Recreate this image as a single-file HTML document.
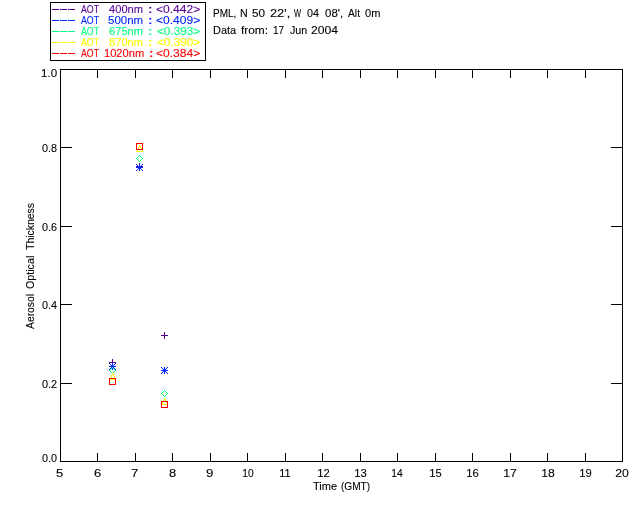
<!DOCTYPE html>
<html><head><meta charset="utf-8"><title>Aerosol Optical Thickness - PML</title>
<style>
html,body{margin:0;padding:0;background:#fff;}
svg{display:block;}
text{font-family:'Liberation Sans',sans-serif;stroke:currentColor;stroke-width:0.12px;}
.t{opacity:0.999;}
</style></head>
<body>
<svg width="640" height="512" viewBox="0 0 640 512" shape-rendering="crispEdges">
<rect x="0" y="0" width="640" height="512" fill="#fff"/>
<rect x="60" y="69" width="563" height="1" fill="#000"/>
<rect x="60" y="461" width="563" height="1" fill="#000"/>
<rect x="60" y="69" width="1" height="393" fill="#000"/>
<rect x="622" y="69" width="1" height="393" fill="#000"/>
<rect x="97" y="453" width="1" height="8" fill="#000"/>
<rect x="97" y="70" width="1" height="8" fill="#000"/>
<rect x="135" y="453" width="1" height="8" fill="#000"/>
<rect x="135" y="70" width="1" height="8" fill="#000"/>
<rect x="172" y="453" width="1" height="8" fill="#000"/>
<rect x="172" y="70" width="1" height="8" fill="#000"/>
<rect x="210" y="453" width="1" height="8" fill="#000"/>
<rect x="210" y="70" width="1" height="8" fill="#000"/>
<rect x="247" y="453" width="1" height="8" fill="#000"/>
<rect x="247" y="70" width="1" height="8" fill="#000"/>
<rect x="285" y="453" width="1" height="8" fill="#000"/>
<rect x="285" y="70" width="1" height="8" fill="#000"/>
<rect x="322" y="453" width="1" height="8" fill="#000"/>
<rect x="322" y="70" width="1" height="8" fill="#000"/>
<rect x="360" y="453" width="1" height="8" fill="#000"/>
<rect x="360" y="70" width="1" height="8" fill="#000"/>
<rect x="397" y="453" width="1" height="8" fill="#000"/>
<rect x="397" y="70" width="1" height="8" fill="#000"/>
<rect x="435" y="453" width="1" height="8" fill="#000"/>
<rect x="435" y="70" width="1" height="8" fill="#000"/>
<rect x="472" y="453" width="1" height="8" fill="#000"/>
<rect x="472" y="70" width="1" height="8" fill="#000"/>
<rect x="510" y="453" width="1" height="8" fill="#000"/>
<rect x="510" y="70" width="1" height="8" fill="#000"/>
<rect x="547" y="453" width="1" height="8" fill="#000"/>
<rect x="547" y="70" width="1" height="8" fill="#000"/>
<rect x="585" y="453" width="1" height="8" fill="#000"/>
<rect x="585" y="70" width="1" height="8" fill="#000"/>
<rect x="61" y="383" width="11" height="1" fill="#000"/>
<rect x="611" y="383" width="11" height="1" fill="#000"/>
<rect x="61" y="304" width="11" height="1" fill="#000"/>
<rect x="611" y="304" width="11" height="1" fill="#000"/>
<rect x="61" y="226" width="11" height="1" fill="#000"/>
<rect x="611" y="226" width="11" height="1" fill="#000"/>
<rect x="61" y="147" width="11" height="1" fill="#000"/>
<rect x="611" y="147" width="11" height="1" fill="#000"/>
<rect x="50" y="2" width="156" height="1" fill="#000"/>
<rect x="50" y="60" width="156" height="1" fill="#000"/>
<rect x="50" y="2" width="1" height="59" fill="#000"/>
<rect x="205" y="2" width="1" height="59" fill="#000"/>
<rect x="52" y="9" width="7" height="1" fill="#550096"/>
<rect x="60" y="9" width="7" height="1" fill="#550096"/>
<rect x="68" y="9" width="7" height="1" fill="#550096"/>
<rect x="52" y="20" width="7" height="1" fill="#0028ff"/>
<rect x="60" y="20" width="7" height="1" fill="#0028ff"/>
<rect x="68" y="20" width="7" height="1" fill="#0028ff"/>
<rect x="52" y="31" width="7" height="1" fill="#00ff80"/>
<rect x="60" y="31" width="7" height="1" fill="#00ff80"/>
<rect x="68" y="31" width="7" height="1" fill="#00ff80"/>
<rect x="52" y="42" width="7" height="1" fill="#f5ff00"/>
<rect x="60" y="42" width="7" height="1" fill="#f5ff00"/>
<rect x="68" y="42" width="7" height="1" fill="#f5ff00"/>
<rect x="52" y="53" width="7" height="1" fill="#ff0000"/>
<rect x="60" y="53" width="7" height="1" fill="#ff0000"/>
<rect x="68" y="53" width="7" height="1" fill="#ff0000"/>
<rect x="109" y="362" width="7" height="1" fill="#550096"/>
<rect x="112" y="359" width="1" height="7" fill="#550096"/>
<rect x="109" y="366" width="7" height="1" fill="#0028ff"/>
<rect x="112" y="363" width="1" height="7" fill="#0028ff"/>
<rect x="109" y="363" width="1" height="1" fill="#0028ff"/>
<rect x="109" y="369" width="1" height="1" fill="#0028ff"/>
<rect x="110" y="364" width="1" height="1" fill="#0028ff"/>
<rect x="110" y="368" width="1" height="1" fill="#0028ff"/>
<rect x="111" y="365" width="1" height="1" fill="#0028ff"/>
<rect x="111" y="367" width="1" height="1" fill="#0028ff"/>
<rect x="113" y="367" width="1" height="1" fill="#0028ff"/>
<rect x="113" y="365" width="1" height="1" fill="#0028ff"/>
<rect x="114" y="368" width="1" height="1" fill="#0028ff"/>
<rect x="114" y="364" width="1" height="1" fill="#0028ff"/>
<rect x="115" y="369" width="1" height="1" fill="#0028ff"/>
<rect x="115" y="363" width="1" height="1" fill="#0028ff"/>
<rect x="112" y="367" width="1" height="1" fill="#00ff80"/>
<rect x="113" y="368" width="1" height="1" fill="#00ff80"/>
<rect x="114" y="369" width="1" height="1" fill="#00ff80"/>
<rect x="115" y="370" width="1" height="1" fill="#00ff80"/>
<rect x="114" y="371" width="1" height="1" fill="#00ff80"/>
<rect x="113" y="372" width="1" height="1" fill="#00ff80"/>
<rect x="112" y="373" width="1" height="1" fill="#00ff80"/>
<rect x="111" y="372" width="1" height="1" fill="#00ff80"/>
<rect x="110" y="371" width="1" height="1" fill="#00ff80"/>
<rect x="109" y="370" width="1" height="1" fill="#00ff80"/>
<rect x="110" y="369" width="1" height="1" fill="#00ff80"/>
<rect x="111" y="368" width="1" height="1" fill="#00ff80"/>
<rect x="109" y="379" width="7" height="1" fill="#f5ff00"/>
<rect x="110" y="377" width="1" height="1" fill="#f5ff00"/>
<rect x="110" y="378" width="1" height="1" fill="#f5ff00"/>
<rect x="111" y="375" width="1" height="1" fill="#f5ff00"/>
<rect x="111" y="376" width="1" height="1" fill="#f5ff00"/>
<rect x="112" y="373" width="1" height="1" fill="#f5ff00"/>
<rect x="112" y="374" width="1" height="1" fill="#f5ff00"/>
<rect x="113" y="374" width="1" height="1" fill="#f5ff00"/>
<rect x="113" y="375" width="1" height="1" fill="#f5ff00"/>
<rect x="114" y="376" width="1" height="1" fill="#f5ff00"/>
<rect x="114" y="377" width="1" height="1" fill="#f5ff00"/>
<rect x="115" y="378" width="1" height="1" fill="#f5ff00"/>
<rect x="109" y="378" width="7" height="1" fill="#ff0000"/>
<rect x="109" y="384" width="7" height="1" fill="#ff0000"/>
<rect x="109" y="379" width="1" height="5" fill="#ff0000"/>
<rect x="115" y="379" width="1" height="5" fill="#ff0000"/>
<rect x="136" y="166" width="7" height="1" fill="#550096"/>
<rect x="139" y="163" width="1" height="7" fill="#550096"/>
<rect x="136" y="167" width="7" height="1" fill="#0028ff"/>
<rect x="139" y="164" width="1" height="7" fill="#0028ff"/>
<rect x="136" y="164" width="1" height="1" fill="#0028ff"/>
<rect x="136" y="170" width="1" height="1" fill="#0028ff"/>
<rect x="137" y="165" width="1" height="1" fill="#0028ff"/>
<rect x="137" y="169" width="1" height="1" fill="#0028ff"/>
<rect x="138" y="166" width="1" height="1" fill="#0028ff"/>
<rect x="138" y="168" width="1" height="1" fill="#0028ff"/>
<rect x="140" y="168" width="1" height="1" fill="#0028ff"/>
<rect x="140" y="166" width="1" height="1" fill="#0028ff"/>
<rect x="141" y="169" width="1" height="1" fill="#0028ff"/>
<rect x="141" y="165" width="1" height="1" fill="#0028ff"/>
<rect x="142" y="170" width="1" height="1" fill="#0028ff"/>
<rect x="142" y="164" width="1" height="1" fill="#0028ff"/>
<rect x="139" y="155" width="1" height="1" fill="#00ff80"/>
<rect x="140" y="156" width="1" height="1" fill="#00ff80"/>
<rect x="141" y="157" width="1" height="1" fill="#00ff80"/>
<rect x="142" y="158" width="1" height="1" fill="#00ff80"/>
<rect x="141" y="159" width="1" height="1" fill="#00ff80"/>
<rect x="140" y="160" width="1" height="1" fill="#00ff80"/>
<rect x="139" y="161" width="1" height="1" fill="#00ff80"/>
<rect x="138" y="160" width="1" height="1" fill="#00ff80"/>
<rect x="137" y="159" width="1" height="1" fill="#00ff80"/>
<rect x="136" y="158" width="1" height="1" fill="#00ff80"/>
<rect x="137" y="157" width="1" height="1" fill="#00ff80"/>
<rect x="138" y="156" width="1" height="1" fill="#00ff80"/>
<rect x="136" y="151" width="7" height="1" fill="#f5ff00"/>
<rect x="137" y="149" width="1" height="1" fill="#f5ff00"/>
<rect x="137" y="150" width="1" height="1" fill="#f5ff00"/>
<rect x="138" y="147" width="1" height="1" fill="#f5ff00"/>
<rect x="138" y="148" width="1" height="1" fill="#f5ff00"/>
<rect x="139" y="145" width="1" height="1" fill="#f5ff00"/>
<rect x="139" y="146" width="1" height="1" fill="#f5ff00"/>
<rect x="140" y="146" width="1" height="1" fill="#f5ff00"/>
<rect x="140" y="147" width="1" height="1" fill="#f5ff00"/>
<rect x="141" y="148" width="1" height="1" fill="#f5ff00"/>
<rect x="141" y="149" width="1" height="1" fill="#f5ff00"/>
<rect x="142" y="150" width="1" height="1" fill="#f5ff00"/>
<rect x="136" y="143" width="7" height="1" fill="#ff0000"/>
<rect x="136" y="149" width="7" height="1" fill="#ff0000"/>
<rect x="136" y="144" width="1" height="5" fill="#ff0000"/>
<rect x="142" y="144" width="1" height="5" fill="#ff0000"/>
<rect x="161" y="335" width="7" height="1" fill="#550096"/>
<rect x="164" y="332" width="1" height="7" fill="#550096"/>
<rect x="161" y="370" width="7" height="1" fill="#0028ff"/>
<rect x="164" y="367" width="1" height="7" fill="#0028ff"/>
<rect x="161" y="367" width="1" height="1" fill="#0028ff"/>
<rect x="161" y="373" width="1" height="1" fill="#0028ff"/>
<rect x="162" y="368" width="1" height="1" fill="#0028ff"/>
<rect x="162" y="372" width="1" height="1" fill="#0028ff"/>
<rect x="163" y="369" width="1" height="1" fill="#0028ff"/>
<rect x="163" y="371" width="1" height="1" fill="#0028ff"/>
<rect x="165" y="371" width="1" height="1" fill="#0028ff"/>
<rect x="165" y="369" width="1" height="1" fill="#0028ff"/>
<rect x="166" y="372" width="1" height="1" fill="#0028ff"/>
<rect x="166" y="368" width="1" height="1" fill="#0028ff"/>
<rect x="167" y="373" width="1" height="1" fill="#0028ff"/>
<rect x="167" y="367" width="1" height="1" fill="#0028ff"/>
<rect x="164" y="390" width="1" height="1" fill="#00ff80"/>
<rect x="165" y="391" width="1" height="1" fill="#00ff80"/>
<rect x="166" y="392" width="1" height="1" fill="#00ff80"/>
<rect x="167" y="393" width="1" height="1" fill="#00ff80"/>
<rect x="166" y="394" width="1" height="1" fill="#00ff80"/>
<rect x="165" y="395" width="1" height="1" fill="#00ff80"/>
<rect x="164" y="396" width="1" height="1" fill="#00ff80"/>
<rect x="163" y="395" width="1" height="1" fill="#00ff80"/>
<rect x="162" y="394" width="1" height="1" fill="#00ff80"/>
<rect x="161" y="393" width="1" height="1" fill="#00ff80"/>
<rect x="162" y="392" width="1" height="1" fill="#00ff80"/>
<rect x="163" y="391" width="1" height="1" fill="#00ff80"/>
<rect x="161" y="404" width="7" height="1" fill="#f5ff00"/>
<rect x="162" y="402" width="1" height="1" fill="#f5ff00"/>
<rect x="162" y="403" width="1" height="1" fill="#f5ff00"/>
<rect x="163" y="400" width="1" height="1" fill="#f5ff00"/>
<rect x="163" y="401" width="1" height="1" fill="#f5ff00"/>
<rect x="164" y="398" width="1" height="1" fill="#f5ff00"/>
<rect x="164" y="399" width="1" height="1" fill="#f5ff00"/>
<rect x="165" y="399" width="1" height="1" fill="#f5ff00"/>
<rect x="165" y="400" width="1" height="1" fill="#f5ff00"/>
<rect x="166" y="401" width="1" height="1" fill="#f5ff00"/>
<rect x="166" y="402" width="1" height="1" fill="#f5ff00"/>
<rect x="167" y="403" width="1" height="1" fill="#f5ff00"/>
<rect x="161" y="401" width="7" height="1" fill="#ff0000"/>
<rect x="161" y="407" width="7" height="1" fill="#ff0000"/>
<rect x="161" y="402" width="1" height="5" fill="#ff0000"/>
<rect x="167" y="402" width="1" height="5" fill="#ff0000"/>
<g class="t">
<text x="56.00" y="477.00" fill="#000" color="#000" font-size="11.5" textLength="7.20" lengthAdjust="spacingAndGlyphs">5</text>
<text x="94.00" y="477.00" fill="#000" color="#000" font-size="11.5" textLength="7.20" lengthAdjust="spacingAndGlyphs">6</text>
<text x="131.00" y="477.00" fill="#000" color="#000" font-size="11.5" textLength="7.41" lengthAdjust="spacingAndGlyphs">7</text>
<text x="169.00" y="477.00" fill="#000" color="#000" font-size="11.5" textLength="7.20" lengthAdjust="spacingAndGlyphs">8</text>
<text x="206.00" y="477.00" fill="#000" color="#000" font-size="11.5" textLength="7.41" lengthAdjust="spacingAndGlyphs">9</text>
<text x="242.25" y="477.00" fill="#000" color="#000" font-size="11.5" textLength="11.36" lengthAdjust="spacingAndGlyphs">10</text>
<text x="279.25" y="477.00" fill="#000" color="#000" font-size="11.5" textLength="11.36" lengthAdjust="spacingAndGlyphs">11</text>
<text x="317.25" y="477.00" fill="#000" color="#000" font-size="11.5" textLength="12.50" lengthAdjust="spacingAndGlyphs">12</text>
<text x="354.25" y="477.00" fill="#000" color="#000" font-size="11.5" textLength="12.50" lengthAdjust="spacingAndGlyphs">13</text>
<text x="391.25" y="477.00" fill="#000" color="#000" font-size="11.5" textLength="11.46" lengthAdjust="spacingAndGlyphs">14</text>
<text x="429.25" y="477.00" fill="#000" color="#000" font-size="11.5" textLength="12.50" lengthAdjust="spacingAndGlyphs">15</text>
<text x="466.25" y="477.00" fill="#000" color="#000" font-size="11.5" textLength="12.50" lengthAdjust="spacingAndGlyphs">16</text>
<text x="503.25" y="477.00" fill="#000" color="#000" font-size="11.5" textLength="13.64" lengthAdjust="spacingAndGlyphs">17</text>
<text x="541.25" y="477.00" fill="#000" color="#000" font-size="11.5" textLength="13.64" lengthAdjust="spacingAndGlyphs">18</text>
<text x="579.25" y="477.00" fill="#000" color="#000" font-size="11.5" textLength="12.50" lengthAdjust="spacingAndGlyphs">19</text>
<text x="615.25" y="477.00" fill="#000" color="#000" font-size="11.5" textLength="13.64" lengthAdjust="spacingAndGlyphs">20</text>
<text x="42.00" y="462.00" fill="#000" color="#000" font-size="11.5" textLength="15.00" lengthAdjust="spacingAndGlyphs">0.0</text>
<text x="42.00" y="388.00" fill="#000" color="#000" font-size="11.5" textLength="15.19" lengthAdjust="spacingAndGlyphs">0.2</text>
<text x="42.00" y="309.00" fill="#000" color="#000" font-size="11.5" textLength="15.00" lengthAdjust="spacingAndGlyphs">0.4</text>
<text x="42.00" y="231.00" fill="#000" color="#000" font-size="11.5" textLength="15.07" lengthAdjust="spacingAndGlyphs">0.6</text>
<text x="42.00" y="152.00" fill="#000" color="#000" font-size="11.5" textLength="15.07" lengthAdjust="spacingAndGlyphs">0.8</text>
<text x="41.00" y="77.00" fill="#000" color="#000" font-size="11.5" textLength="16.07" lengthAdjust="spacingAndGlyphs">1.0</text>
<text x="313.00" y="490.00" fill="#000" color="#000" font-size="11.5" textLength="24.00" lengthAdjust="spacingAndGlyphs">Time</text>
<text x="341.00" y="490.00" fill="#000" color="#000" font-size="11.5" textLength="29.16" lengthAdjust="spacingAndGlyphs">(GMT)</text>
<text x="0" y="0" fill="#000" color="#000" font-size="11.5" textLength="35.03" lengthAdjust="spacingAndGlyphs" transform="translate(34.00,329.00) rotate(-90)">Aerosol</text>
<text x="0" y="0" fill="#000" color="#000" font-size="11.5" textLength="33.29" lengthAdjust="spacingAndGlyphs" transform="translate(34.00,289.00) rotate(-90)">Optical</text>
<text x="0" y="0" fill="#000" color="#000" font-size="11.5" textLength="47.06" lengthAdjust="spacingAndGlyphs" transform="translate(34.00,250.00) rotate(-90)">Thickness</text>
<text x="213.00" y="17.00" fill="#000" color="#000" font-size="11.5" textLength="23.21" lengthAdjust="spacingAndGlyphs">PML,</text>
<text x="240.00" y="17.00" fill="#000" color="#000" font-size="11.5" textLength="7.71" lengthAdjust="spacingAndGlyphs">N</text>
<text x="252.00" y="17.00" fill="#000" color="#000" font-size="11.5" textLength="13.09" lengthAdjust="spacingAndGlyphs">50</text>
<text x="270.00" y="17.00" fill="#000" color="#000" font-size="11.5" textLength="20.25" lengthAdjust="spacingAndGlyphs">22',</text>
<text x="294.00" y="17.00" fill="#000" color="#000" font-size="11.5" textLength="7.00" lengthAdjust="spacingAndGlyphs">W</text>
<text x="307.00" y="17.00" fill="#000" color="#000" font-size="11.5" textLength="12.00" lengthAdjust="spacingAndGlyphs">04</text>
<text x="325.00" y="17.00" fill="#000" color="#000" font-size="11.5" textLength="18.13" lengthAdjust="spacingAndGlyphs">08',</text>
<text x="348.00" y="17.00" fill="#000" color="#000" font-size="11.5" textLength="12.00" lengthAdjust="spacingAndGlyphs">Alt</text>
<text x="365.00" y="17.00" fill="#000" color="#000" font-size="11.5" textLength="15.33" lengthAdjust="spacingAndGlyphs">0m</text>
<text x="213.00" y="34.00" fill="#000" color="#000" font-size="11.5" textLength="23.05" lengthAdjust="spacingAndGlyphs">Data</text>
<text x="241.00" y="34.00" fill="#000" color="#000" font-size="11.5" textLength="27.04" lengthAdjust="spacingAndGlyphs">from:</text>
<text x="273.00" y="34.00" fill="#000" color="#000" font-size="11.5" textLength="11.11" lengthAdjust="spacingAndGlyphs">17</text>
<text x="290.00" y="34.00" fill="#000" color="#000" font-size="11.5" textLength="17.27" lengthAdjust="spacingAndGlyphs">Jun</text>
<text x="311.00" y="34.00" fill="#000" color="#000" font-size="11.5" textLength="27.04" lengthAdjust="spacingAndGlyphs">2004</text>
<text x="81.00" y="13.00" fill="#550096" color="#550096" font-size="11.5" textLength="18.00" lengthAdjust="spacingAndGlyphs">AOT</text>
<text x="109.00" y="13.00" fill="#550096" color="#550096" font-size="11.5" textLength="34.03" lengthAdjust="spacingAndGlyphs">400nm</text>
<text x="148.00" y="13.00" fill="#550096" color="#550096" font-size="11.5" textLength="4.44" lengthAdjust="spacingAndGlyphs" font-weight="bold">:</text>
<text x="156.00" y="13.00" fill="#550096" color="#550096" font-size="11.5" textLength="44.17" lengthAdjust="spacingAndGlyphs">&lt;0.442&gt;</text>
<text x="81.00" y="24.00" fill="#0028ff" color="#0028ff" font-size="11.5" textLength="18.00" lengthAdjust="spacingAndGlyphs">AOT</text>
<text x="108.00" y="24.00" fill="#0028ff" color="#0028ff" font-size="11.5" textLength="35.13" lengthAdjust="spacingAndGlyphs">500nm</text>
<text x="148.00" y="24.00" fill="#0028ff" color="#0028ff" font-size="11.5" textLength="4.44" lengthAdjust="spacingAndGlyphs" font-weight="bold">:</text>
<text x="156.00" y="24.00" fill="#0028ff" color="#0028ff" font-size="11.5" textLength="44.17" lengthAdjust="spacingAndGlyphs">&lt;0.409&gt;</text>
<text x="81.00" y="35.00" fill="#00ff80" color="#00ff80" font-size="11.5" textLength="18.00" lengthAdjust="spacingAndGlyphs">AOT</text>
<text x="109.00" y="35.00" fill="#00ff80" color="#00ff80" font-size="11.5" textLength="34.10" lengthAdjust="spacingAndGlyphs">675nm</text>
<text x="148.00" y="35.00" fill="#00ff80" color="#00ff80" font-size="11.5" textLength="4.44" lengthAdjust="spacingAndGlyphs" font-weight="bold">:</text>
<text x="157.00" y="35.00" fill="#00ff80" color="#00ff80" font-size="11.5" textLength="43.19" lengthAdjust="spacingAndGlyphs">&lt;0.393&gt;</text>
<text x="81.00" y="46.00" fill="#f5ff00" color="#f5ff00" font-size="11.5" textLength="18.00" lengthAdjust="spacingAndGlyphs">AOT</text>
<text x="109.00" y="46.00" fill="#f5ff00" color="#f5ff00" font-size="11.5" textLength="34.03" lengthAdjust="spacingAndGlyphs">870nm</text>
<text x="148.00" y="46.00" fill="#f5ff00" color="#f5ff00" font-size="11.5" textLength="4.44" lengthAdjust="spacingAndGlyphs" font-weight="bold">:</text>
<text x="157.00" y="46.00" fill="#f5ff00" color="#f5ff00" font-size="11.5" textLength="43.19" lengthAdjust="spacingAndGlyphs">&lt;0.390&gt;</text>
<text x="81.00" y="57.00" fill="#ff0000" color="#ff0000" font-size="11.5" textLength="18.00" lengthAdjust="spacingAndGlyphs">AOT</text>
<text x="104.00" y="57.00" fill="#ff0000" color="#ff0000" font-size="11.5" textLength="40.13" lengthAdjust="spacingAndGlyphs">1020nm</text>
<text x="149.00" y="57.00" fill="#ff0000" color="#ff0000" font-size="11.5" textLength="4.44" lengthAdjust="spacingAndGlyphs" font-weight="bold">:</text>
<text x="156.00" y="57.00" fill="#ff0000" color="#ff0000" font-size="11.5" textLength="44.17" lengthAdjust="spacingAndGlyphs">&lt;0.384&gt;</text>
</g>
</svg>
</body></html>
